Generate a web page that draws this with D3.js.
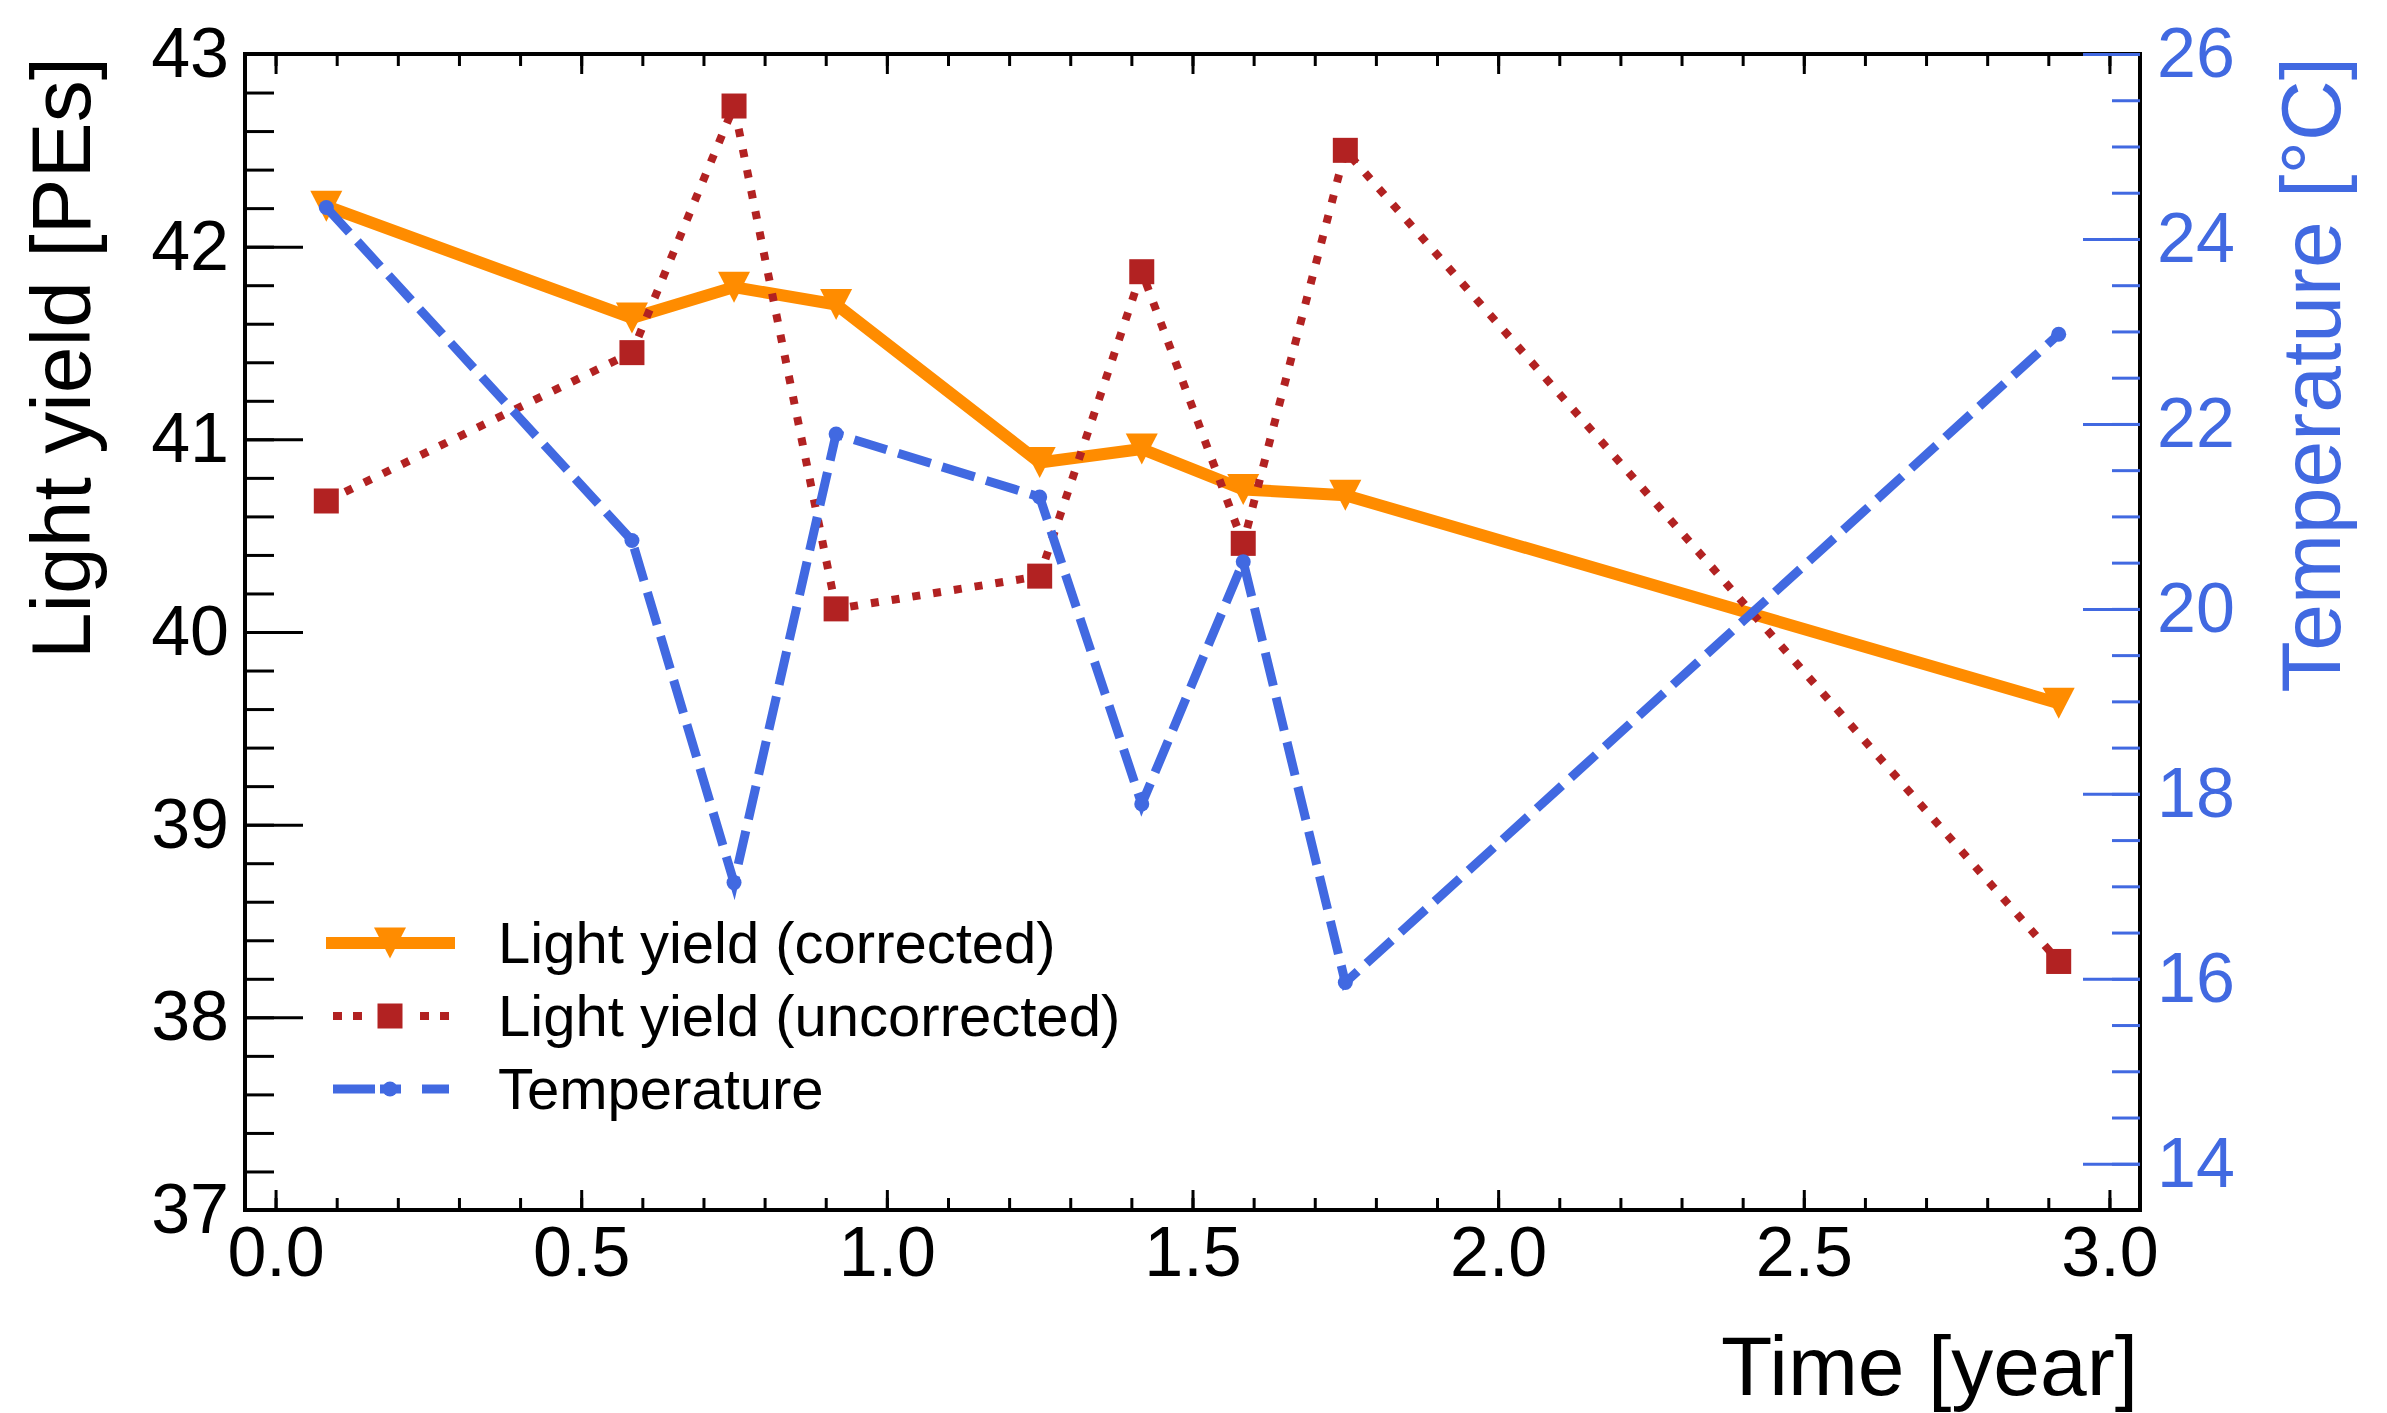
<!DOCTYPE html>
<html><head><meta charset="utf-8">
<script src="https://cdn.jsdelivr.net/npm/d3@7"></script>
<style>
html,body{margin:0;padding:0;background:#fff;}
svg{display:block;}
text{font-family:"Liberation Sans",Arial,Helvetica,sans-serif;}
</style>
</head><body>
<svg id="chart" width="2387" height="1413"></svg>
<script>
// ---- data ----
const timeYears = [0.083, 0.583, 0.75, 0.917, 1.25, 1.417, 1.583, 1.75, 2.917];
const lightYieldCorrected = [42.21, 41.63, 41.79, 41.70, 40.88, 40.95, 40.74, 40.71, 39.63];
const lightYieldUncorrected = [40.68, 41.45, 42.73, 40.12, 40.29, 41.87, 40.46, 42.50, 38.29];
const temperature = [24.34, 20.74, 17.04, 21.89, 21.21, 17.89, 20.51, 15.96, 22.97];
const seriesNames = ["Light yield (corrected)", "Light yield (uncorrected)", "Temperature"];
const xTickValues = [0.0, 0.5, 1.0, 1.5, 2.0, 2.5, 3.0];
const yLeftTickValues = [37, 38, 39, 40, 41, 42, 43];
const yRightTickValues = [14, 16, 18, 20, 22, 24, 26];
const xTitle = "Time [year]";
const yLeftTitle = "Light yield [PEs]";
const yRightTitle = "Temperature [°C]";

// ---- layout ----
const L = 245, R = 2140, T = 54, B = 1210;
const ORANGE = "#FF8C00", RED = "#B22222", BLUE = "#4169E1";

const svg = d3.select("#chart");
svg.append("rect").attr("width", 2387).attr("height", 1413).attr("fill", "#fff");

const x = d3.scaleLinear().domain([-0.05, 3.05]).range([L, R]);
const yL = d3.scaleLinear().domain([37, 43]).range([B, T]);
const yR = d3.scaleLinear().domain([13.5, 26]).range([B, T]);

const pts = (vals) => timeYears.map((t, i) => ({t, v: vals[i]}));

// ---- series ----
const lineL = d3.line().x(d => x(d.t)).y(d => yL(d.v));
const lineR = d3.line().x(d => x(d.t)).y(d => yR(d.v));

const gS = svg.append("g");
// corrected (orange, solid, triangle-down)
gS.append("path").datum(pts(lightYieldCorrected)).attr("d", lineL)
  .attr("fill", "none").attr("stroke", ORANGE).attr("stroke-width", 12)
  .attr("stroke-linejoin", "round");
const triPath = "M-16,-15.5L16,-15.5L0,15.5Z";
gS.selectAll(".tri").data(pts(lightYieldCorrected)).join("path")
  .attr("d", triPath).attr("fill", ORANGE)
  .attr("transform", d => `translate(${x(d.t)},${yL(d.v)})`);

// uncorrected (red, dotted, squares)
gS.append("path").datum(pts(lightYieldUncorrected)).attr("d", lineL)
  .attr("fill", "none").attr("stroke", RED).attr("stroke-width", 8)
  .attr("stroke-dasharray", "8,13");
gS.selectAll(".sq").data(pts(lightYieldUncorrected)).join("rect")
  .attr("x", d => x(d.t) - 12.5).attr("y", d => yL(d.v) - 12.5)
  .attr("width", 25).attr("height", 25).attr("fill", RED);

// temperature (blue, dashed, dots) on right axis
gS.append("path").datum(pts(temperature)).attr("d", lineR)
  .attr("fill", "none").attr("stroke", BLUE).attr("stroke-width", 9)
  .attr("stroke-dasharray", "34,12");
gS.selectAll(".dot").data(pts(temperature)).join("circle")
  .attr("cx", d => x(d.t)).attr("cy", d => yR(d.v)).attr("r", 7.5).attr("fill", BLUE);

// ---- frame ----
svg.append("rect").attr("x", L).attr("y", T).attr("width", R - L).attr("height", B - T)
  .attr("fill", "none").attr("stroke", "#000").attr("stroke-width", 4);

// ---- axes ----
const FS = 70;
function styleAxis(g, color) {
  g.select(".domain").remove();
  g.attr("color", color);
  g.selectAll(".tick line").attr("stroke-width", 3);
  g.selectAll(".tick text").attr("font-size", FS).attr("font-family", '"Liberation Sans",Arial,sans-serif');
}
const xMinor = d3.range(0, 31).map(i => i / 10);
const yLMinor = d3.range(0, 31).map(i => 37 + i * 0.2);
const yRMinor = d3.range(0, 25).map(i => 14 + i * 0.5);

// bottom
svg.append("g").attr("transform", `translate(0,${B})`)
  .call(d3.axisBottom(x).tickValues(xMinor).tickSize(-12).tickFormat(() => ""))
  .call(g => styleAxis(g, "#000"));
svg.append("g").attr("transform", `translate(0,${B})`)
  .call(d3.axisBottom(x).tickValues(xTickValues).tickSize(-20).tickPadding(16).tickFormat(d3.format(".1f")))
  .call(g => styleAxis(g, "#000"));
// top
svg.append("g").attr("transform", `translate(0,${T})`)
  .call(d3.axisTop(x).tickValues(xMinor).tickSize(-12).tickFormat(() => ""))
  .call(g => styleAxis(g, "#000"));
svg.append("g").attr("transform", `translate(0,${T})`)
  .call(d3.axisTop(x).tickValues(xTickValues).tickSize(-20).tickFormat(() => ""))
  .call(g => styleAxis(g, "#000"));
// left
svg.append("g").attr("transform", `translate(${L},0)`)
  .call(d3.axisLeft(yL).tickValues(yLMinor).tickSize(-29).tickFormat(() => ""))
  .call(g => styleAxis(g, "#000"));
svg.append("g").attr("transform", `translate(${L},0)`)
  .call(d3.axisLeft(yL).tickValues(yLeftTickValues).tickSize(-58).tickPadding(16).tickFormat(d3.format("d")))
  .call(g => styleAxis(g, "#000"));
// right (temperature)
svg.append("g").attr("transform", `translate(${R},0)`)
  .call(d3.axisRight(yR).tickValues(yRMinor).tickSize(-28).tickFormat(() => ""))
  .call(g => styleAxis(g, BLUE));
svg.append("g").attr("transform", `translate(${R},0)`)
  .call(d3.axisRight(yR).tickValues(yRightTickValues).tickSize(-57).tickPadding(17).tickFormat(d3.format("d")))
  .call(g => styleAxis(g, BLUE));

// ---- axis titles ----
svg.append("text").attr("x", 2138).attr("y", 1395).attr("text-anchor", "end")
  .attr("font-size", 84).attr("fill", "#000").text(xTitle);
svg.append("text").attr("transform", "translate(90,57) rotate(-90)").attr("text-anchor", "end")
  .attr("font-size", 84).attr("fill", "#000").text(yLeftTitle);
svg.append("text").attr("transform", "translate(2340,57) rotate(-90)").attr("text-anchor", "end")
  .attr("font-size", 84).attr("fill", BLUE).text(yRightTitle);

// ---- legend ----
const legY = [943, 1016, 1089];
const lg = svg.append("g");
// corrected
lg.append("line").attr("x1", 326).attr("x2", 455).attr("y1", legY[0]).attr("y2", legY[0])
  .attr("stroke", ORANGE).attr("stroke-width", 12);
lg.append("path").attr("d", triPath).attr("fill", ORANGE).attr("transform", `translate(390,${legY[0]})`);
// uncorrected
[[333, 362], [420, 449]].forEach(([a, b]) =>
  lg.append("line").attr("x1", a).attr("x2", b).attr("y1", legY[1]).attr("y2", legY[1])
    .attr("stroke", RED).attr("stroke-width", 8).attr("stroke-dasharray", "9,11"));
lg.append("rect").attr("x", 377.5).attr("y", legY[1] - 12.5).attr("width", 25).attr("height", 25).attr("fill", RED);
// temperature
[[333, 375], [380, 401], [422, 449]].forEach(([a, b]) =>
  lg.append("line").attr("x1", a).attr("x2", b).attr("y1", legY[2]).attr("y2", legY[2])
    .attr("stroke", BLUE).attr("stroke-width", 9));
lg.append("circle").attr("cx", 390).attr("cy", legY[2]).attr("r", 7.5).attr("fill", BLUE);
// labels
lg.selectAll(".lt").data(seriesNames).join("text")
  .attr("x", 498).attr("y", (d, i) => legY[i] + 20)
  .attr("font-size", 58).attr("fill", "#000").text(d => d);
</script>
</body></html>
